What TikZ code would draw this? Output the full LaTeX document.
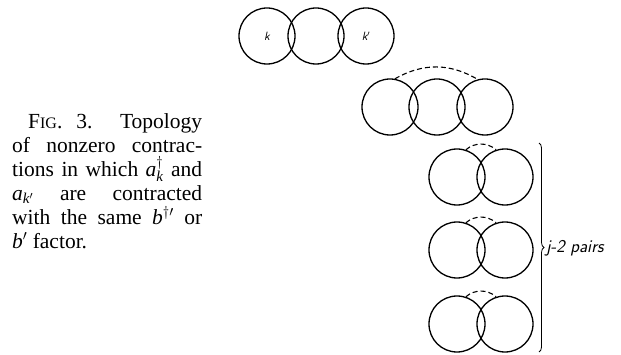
\documentclass[tikz,border=0pt]{standalone}
\usepackage{fontspec}
\setmainfont{Liberation Serif}
\usetikzlibrary{decorations.pathreplacing}
\begin{document}
\begin{tikzpicture}[x=1pt,y=-1pt,
  ring/.style={draw,circle,line width=1.3pt,minimum size=56pt,inner sep=0pt,
    font=\sffamily\itshape\fontsize{12}{12}\selectfont},
  contr/.style={dash pattern=on 5pt off 3pt,line width=1.1pt}]
\useasboundingbox (0,0) rectangle (621,355);

\node[text width=190pt,align=justify,inner sep=0pt,anchor=north west,
  font=\fontsize{21.5}{24}\selectfont] (caption) at (12,113)
  {\hspace*{16pt}F{\fontsize{16}{24}\selectfont IG}. 3.\ \ Topology\linebreak
   of nonzero contrac-\linebreak
   tions in which $\mathit{a}_{\mathit{k}}^\dagger$ and\linebreak
   $\mathit{a}_{\mathit{k}'}$ are contracted\linebreak
   with the same $\mathit{b}^{\dagger\prime}$ or\linebreak
   $\mathit{b}'$ factor.};

\node[ring] (t1) at (267,36) {k};
\node[ring] (t2) at (316,36) {};
\node[ring] (t3) at (366,36) {k$'$};

\node[ring] (m1) at (390,107) {};
\node[ring] (m2) at (437,107) {};
\node[ring] (m3) at (485,107) {};

\node[ring] (p1a) at (457,177) {};
\node[ring] (p1b) at (505,177) {};
\node[ring] (p2a) at (457,250) {};
\node[ring] (p2b) at (505,250) {};
\node[ring] (p3a) at (457,324) {};
\node[ring] (p3b) at (505,324) {};

\draw[contr] (m1.80) to[bend left=30] (m3.105);
\draw[contr] (p1a.72) to[bend left=40] (p1b.108);
\draw[contr] (p2a.72) to[bend left=40] (p2b.108);
\draw[contr] (p3a.72) to[bend left=40] (p3b.108);

\coordinate (bt) at (539,143);
\coordinate (bb) at (539,352);
\draw[decorate,decoration={brace,amplitude=5pt},line width=0.8pt] (bt) -- (bb);
\node[anchor=west,inner sep=0pt,font=\sffamily\itshape\fontsize{18}{18}\selectfont]
  (pairs) at (546,248) {j-2 pairs};
\end{tikzpicture}
\end{document}
